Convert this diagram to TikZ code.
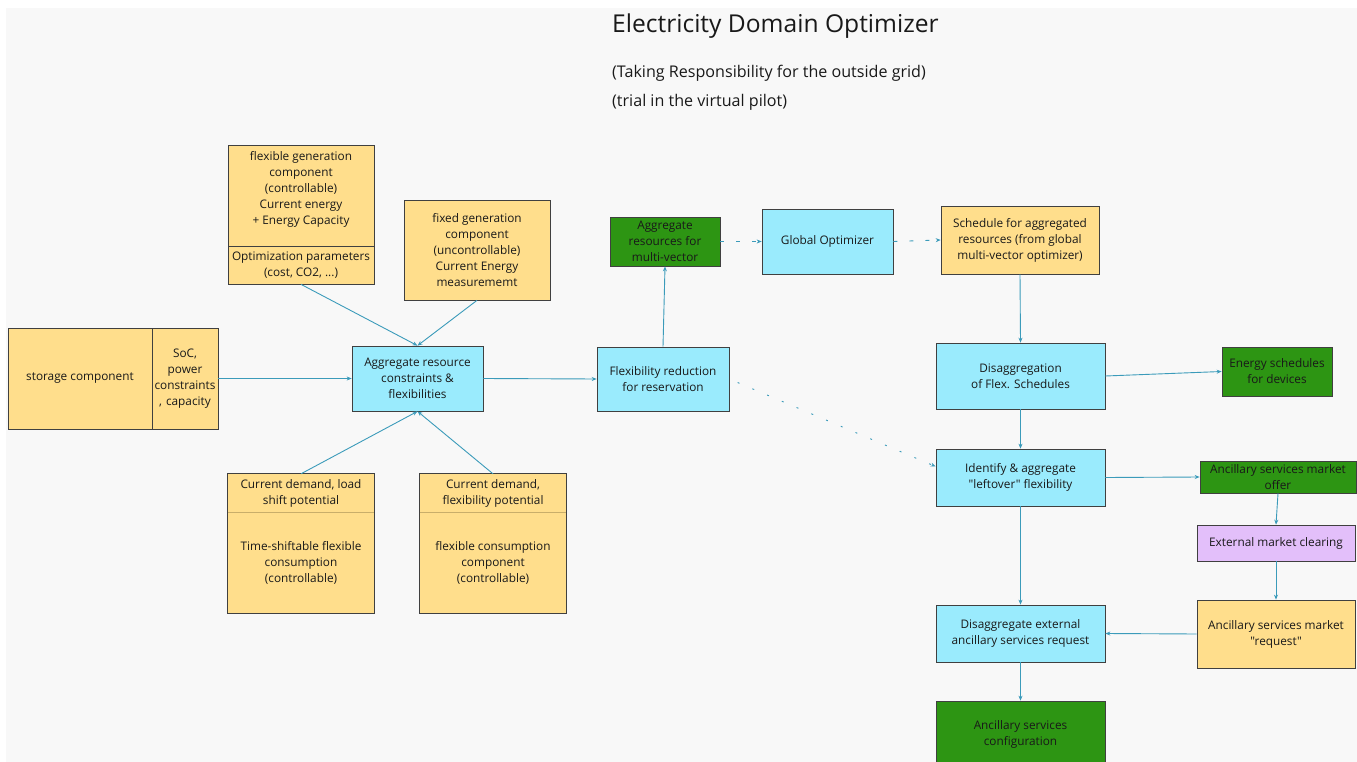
\documentclass[tikz,border=0pt]{standalone}
\usepackage{fontspec}
\setmainfont{Open Sans}[Ligatures=TeXOff]
\usetikzlibrary{arrows.meta}

\definecolor{canvas}{HTML}{F8F8F8}
\definecolor{sand}{HTML}{FFDE8C}
\definecolor{sky}{HTML}{9AEBFD}
\definecolor{leaf}{HTML}{2D9513}
\definecolor{lilac}{HTML}{E3BFFA}
\definecolor{wire}{HTML}{3B9BBA}
\definecolor{rule}{HTML}{C9AE6A}

\tikzset{
  box/.style={draw=black!75, line width=0.7pt, inner sep=1pt, align=center,
    text=black!90, font=\fontsize{11.8}{16}\selectfont},
  flat/.style={draw=none, inner sep=1pt, align=center, text=black!90,
    font=\fontsize{11.8}{16}\selectfont},
  sandbox/.style={box, fill=sand},
  skybox/.style={box, fill=sky},
  leafbox/.style={box, fill=leaf},
  lilacbox/.style={box, fill=lilac},
  outline/.style={draw=black!75, line width=0.7pt},
  divider/.style={draw=rule, line width=0.7pt},
  flow/.style={draw=wire, line width=0.9pt, -{Stealth[length=5pt,width=4pt]}},
  loose/.style={flow, dash pattern=on 4pt off 12pt},
  dotty/.style={flow, dash pattern=on 2pt off 14pt},
  heading/.style={anchor=west, inner sep=0pt, text=black!90},
}

\begin{document}
\begin{tikzpicture}[x=1pt, y=-1pt]
  % canvas
  \useasboundingbox (0,0) rectangle (1357,762);
  \fill[white] (0,0) rectangle (1357,762);
  \fill[canvas] (6,8) rectangle (1357,762);

  % titles
  \node[heading, font=\fontsize{24.6}{28}\selectfont] (title) at (612,26) {Electricity Domain Optimizer};
  \node[heading, font=\fontsize{16.1}{19}\selectfont] (sub1) at (612,73) {(Taking Responsibility for the outside grid)};
  \node[heading, font=\fontsize{16.1}{19}\selectfont] (sub2) at (612,102) {(trial in the virtual pilot)};

  % flexible generation (two-part box)
  \node[sandbox, minimum width=146pt, minimum height=101pt] (flexgenA) at (301,195.5) {};
  \node[flat] (flexgenT) at (301,189) {flexible generation\\component\\(controllable)\\Current energy\\+ Energy Capacity};
  \node[sandbox, minimum width=146pt, minimum height=38pt, inner sep=0pt] (flexgenB) at (301,265) {Optimization parameters\\(cost, CO2, ...)};

  % fixed generation
  \node[sandbox, minimum width=146pt, minimum height=100pt] (fixedgen) at (477,250) {fixed generation\\component\\(uncontrollable)\\Current Energy\\measurememt};

  % storage (side-by-side box)
  \node[sandbox, minimum width=144pt, minimum height=101pt] (storage) at (80,378.5) {storage component};
  \node[sandbox, minimum width=66pt, minimum height=101pt, text width=64pt, inner sep=0pt] (storeprops) at (185,378.5) {SoC,\\power\\constraints\\, capacity};

  % time-shiftable consumption
  \node[fill=sand, minimum width=146pt, minimum height=38pt, flat] (tsA) at (301,493) {Current demand, load\\shift potential};
  \node[fill=sand, minimum width=146pt, minimum height=101pt, flat] (tsB) at (301,562.5) {Time-shiftable flexible\\consumption\\(controllable)};
  \draw[outline] (tsA.north west) rectangle (tsB.south east);
  \draw[divider] (tsA.south west) -- (tsA.south east);

  % flexible consumption
  \node[fill=sand, minimum width=146pt, minimum height=38pt, flat] (fcA) at (493,493) {Current demand,\\flexibility potential};
  \node[fill=sand, minimum width=146pt, minimum height=101pt, flat] (fcB) at (493,562.5) {flexible consumption\\component\\(controllable)};
  \draw[outline] (fcA.north west) rectangle (fcB.south east);
  \draw[divider] (fcA.south west) -- (fcA.south east);

  % processing chain
  \node[skybox, minimum width=131pt, minimum height=65pt] (aggr) at (417.5,378.5) {Aggregate resource\\constraints \&\\flexibilities};
  \node[skybox, minimum width=132pt, minimum height=64pt] (flexred) at (663,379) {Flexibility reduction\\for reservation};
  \node[leafbox, minimum width=110pt, minimum height=49pt] (aggmv) at (665,241.5) {Aggregate\\resources for\\multi-vector};
  \node[skybox, minimum width=131pt, minimum height=65pt] (globalopt) at (827.5,241.5) {Global Optimizer};
  \node[sandbox, minimum width=158pt, minimum height=68pt] (sched) at (1020,240) {Schedule for aggregated\\resources (from global\\multi-vector optimizer)};
  \node[skybox, minimum width=169pt, minimum height=66pt] (disagg) at (1020.5,376) {Disaggregation\\of Flex. Schedules};
  \node[leafbox, minimum width=110pt, minimum height=49pt] (energy) at (1277,371.5) {Energy schedules\\for devices};
  \node[skybox, minimum width=169pt, minimum height=57pt] (identify) at (1020.5,477.5) {Identify \& aggregate\\"leftover" flexibility};
  \node[leafbox, minimum width=156pt, minimum height=32pt, inner sep=0pt] (ancoffer) at (1278,477) {Ancillary services market\\offer};
  \node[lilacbox, minimum width=158pt, minimum height=36pt] (extclear) at (1276,543) {External market clearing};
  \node[sandbox, minimum width=158pt, minimum height=68pt, inner sep=0pt] (ancreq) at (1276,634) {Ancillary services market\\"request"};
  \node[skybox, minimum width=169pt, minimum height=57pt] (disaggext) at (1020.5,633.5) {Disaggregate external\\ancillary services request};
  \node[leafbox, minimum width=169pt, minimum height=66pt] (ancconf) at (1020.5,734) {Ancillary services\\configuration};

  % connectors
  \draw[flow] (flexgenB.south) -- (aggr.north);
  \draw[flow] (fixedgen.south) -- (aggr.north);
  \draw[flow] (storeprops.east) -- (aggr.west);
  \draw[flow] (tsA.north) -- (aggr.south);
  \draw[flow] (fcA.north) -- (aggr.south);
  \draw[flow] (aggr.east) -- (flexred.west);
  \draw[flow] (flexred.north) -- (aggmv.south);
  \draw[loose] (aggmv.east) -- (globalopt.west);
  \draw[loose] (globalopt.east) -- (sched.west);
  \draw[flow] (sched.south) -- (disagg.north);
  \draw[flow] (disagg.east) -- (energy.west);
  \draw[flow] (disagg.south) -- (identify.north);
  \draw[dotty, shorten <=9pt] (flexred.east) -- ([yshift=11pt]identify.west);
  \draw[flow] (identify.east) -- (ancoffer.west);
  \draw[flow] (identify.south) -- (disaggext.north);
  \draw[flow] (ancoffer.south) -- (extclear.north);
  \draw[flow] (extclear.south) -- (ancreq.north);
  \draw[flow] (ancreq.west) -- (disaggext.east);
  \draw[flow] (disaggext.south) -- (ancconf.north);
\end{tikzpicture}
\end{document}
